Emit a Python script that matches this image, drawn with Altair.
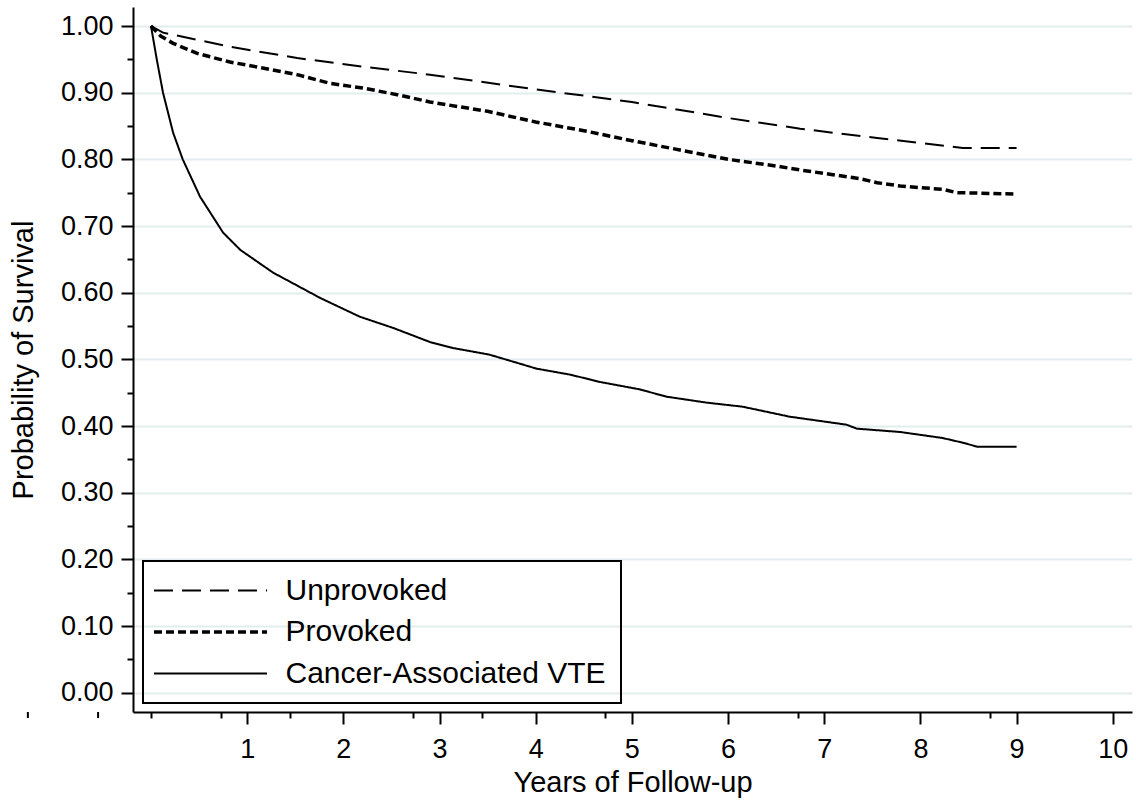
import altair as alt
import pandas as pd

# ---- data ----
groups = ["Unprovoked", "Provoked", "Cancer-Associated VTE"]

unprov_t = [0, 0.125, 0.82, 1.52, 2.2, 2.9, 4.0, 5.0, 6.0, 6.75, 7.09, 7.55, 8.03, 8.27, 8.44, 9.0]
unprov_s = [1.0, 0.99, 0.969, 0.952, 0.939, 0.927, 0.905, 0.886, 0.862, 0.846, 0.840, 0.832, 0.824, 0.820, 0.817, 0.817]

prov_t = [0, 0.1, 0.23, 0.48, 0.82, 1.16, 1.52, 1.86, 2.2, 2.56, 2.9, 3.5, 4.0, 4.5, 5.0, 5.5,
          6.0, 6.5, 6.75, 7.09, 7.37, 7.55, 7.79, 8.23, 8.38, 9.0]
prov_s = [1.0, 0.985, 0.974, 0.959, 0.946, 0.937, 0.927, 0.914, 0.907, 0.897, 0.886, 0.872, 0.856, 0.843,
          0.828, 0.814, 0.800, 0.790, 0.784, 0.777, 0.771, 0.765, 0.760, 0.755, 0.750, 0.748]

cancer_t = [0, 0.06, 0.125, 0.23, 0.33, 0.51, 0.75, 0.93, 1.27, 1.76, 2.17, 2.52, 2.9, 3.14, 3.52,
            4.01, 4.36, 4.67, 5.08, 5.36, 5.78, 6.15, 6.64, 7.23, 7.34, 7.79, 8.23, 8.44, 8.59, 9.0]
cancer_s = [1.0, 0.95, 0.90, 0.84, 0.80, 0.744, 0.69, 0.664, 0.63, 0.592, 0.564, 0.547, 0.526, 0.517, 0.507,
            0.486, 0.477, 0.466, 0.455, 0.444, 0.435, 0.429, 0.414, 0.402, 0.396, 0.391, 0.382, 0.375, 0.369, 0.369]

x_major = [1, 2, 3, 4, 5, 6, 7, 8, 9, 10]
x_minor = [0, 0.73, 1.445, 2.72, 3.44, 4.72, 6.725, 8.72]
x_stray = [-1.28, -0.55]          # short ticks left of the axis in the reference
y_major = [0.0, 0.1, 0.2, 0.3, 0.4, 0.5, 0.6, 0.7, 0.8, 0.9, 1.0]
y_minor = [0.05, 0.15, 0.25, 0.35, 0.45, 0.55, 0.65, 0.75, 0.85, 0.95]

rows = []
for g, ts, ss in zip(groups, [unprov_t, prov_t, cancer_t], [unprov_s, prov_s, cancer_s]):
    for t, s in zip(ts, ss):
        rows.append({"group": g, "t": t, "s": s})
df = pd.DataFrame(rows)

Y_LO, Y_HI = -0.029, 1.0285
stray_df = pd.DataFrame({"t": x_stray, "y1": [Y_LO] * len(x_stray), "y2": [-0.038] * len(x_stray)})

FONT = "Liberation Sans"
xscale = alt.Scale(domain=[-0.187, 10.2], nice=False, zero=False)
yscale = alt.Scale(domain=[Y_LO, Y_HI], nice=False, zero=False)

legend = alt.Legend(
    title=None, orient="none", legendX=10, legendY=554, direction="vertical",
    symbolType="M-6,0H6", symbolSize=355, symbolOffset=38, labelOffset=60,
    labelFont=FONT, labelFontSize=30, labelColor="black", labelLimit=600,
    padding=14.5, rowPadding=11.5, strokeColor="black", symbolStrokeColor="black",
)

lines = alt.Chart(df).mark_line(color="black", strokeCap="butt").encode(
    x=alt.X("t:Q", scale=xscale, axis=alt.Axis(
        values=x_major, title="Years of Follow-up", grid=False, format="d",
        tickSize=12, tickWidth=2, tickColor="black", domainColor="black", domainWidth=2,
        labelFont=FONT, labelFontSize=27, labelColor="black", labelPadding=12,
        titleFont=FONT, titleFontSize=29, titleFontWeight="normal", titleColor="black", titlePadding=6)),
    y=alt.Y("s:Q", scale=yscale, axis=alt.Axis(
        values=y_major, format=".2f", title="Probability of Survival", grid=True,
        gridColor="#e4ecf0", gridWidth=2,
        tickSize=12, tickWidth=2, tickColor="black", domainColor="black", domainWidth=2,
        labelFont=FONT, labelFontSize=27, labelColor="black", labelPadding=8,
        titleFont=FONT, titleFontSize=29, titleFontWeight="normal", titleColor="black", titlePadding=22)),
    strokeDash=alt.StrokeDash("group:N", scale=alt.Scale(domain=groups, range=[[19, 9], [8, 4], [1, 0]]),
                              legend=legend),
    strokeWidth=alt.StrokeWidth("group:N", scale=alt.Scale(type="ordinal", domain=groups, range=[2, 3.5, 2]),
                                legend=legend),
)

minor = alt.Chart(df).mark_point(opacity=0).encode(
    x=alt.X("t:Q", scale=xscale, axis=alt.Axis(
        values=x_minor, orient="bottom", labels=False, domain=False, grid=False,
        tickSize=6, tickWidth=2, tickColor="black", title=None)),
    y=alt.Y("s:Q", scale=yscale, axis=alt.Axis(
        values=y_minor, orient="left", labels=False, domain=False, grid=False,
        tickSize=6, tickWidth=2, tickColor="black", title=None)),
)

stray = alt.Chart(stray_df).mark_rule(color="black", strokeWidth=2, clip=False).encode(
    x=alt.X("t:Q", scale=xscale, axis=None),
    y=alt.Y("y1:Q", scale=yscale, axis=None),
    y2="y2:Q",
)

chart = alt.layer(lines, minor, stray).resolve_axis(x="independent", y="independent").properties(
    width=999, height=705,
    autosize=alt.AutoSizeParams(type="none"),
    padding={"left": 133, "top": 7, "right": 4, "bottom": 93},
    background="white",
).configure_view(stroke=None).configure_legend(strokeWidth=2)

chart.save("out.html", embed_options={"renderer": "svg", "actions": False})
